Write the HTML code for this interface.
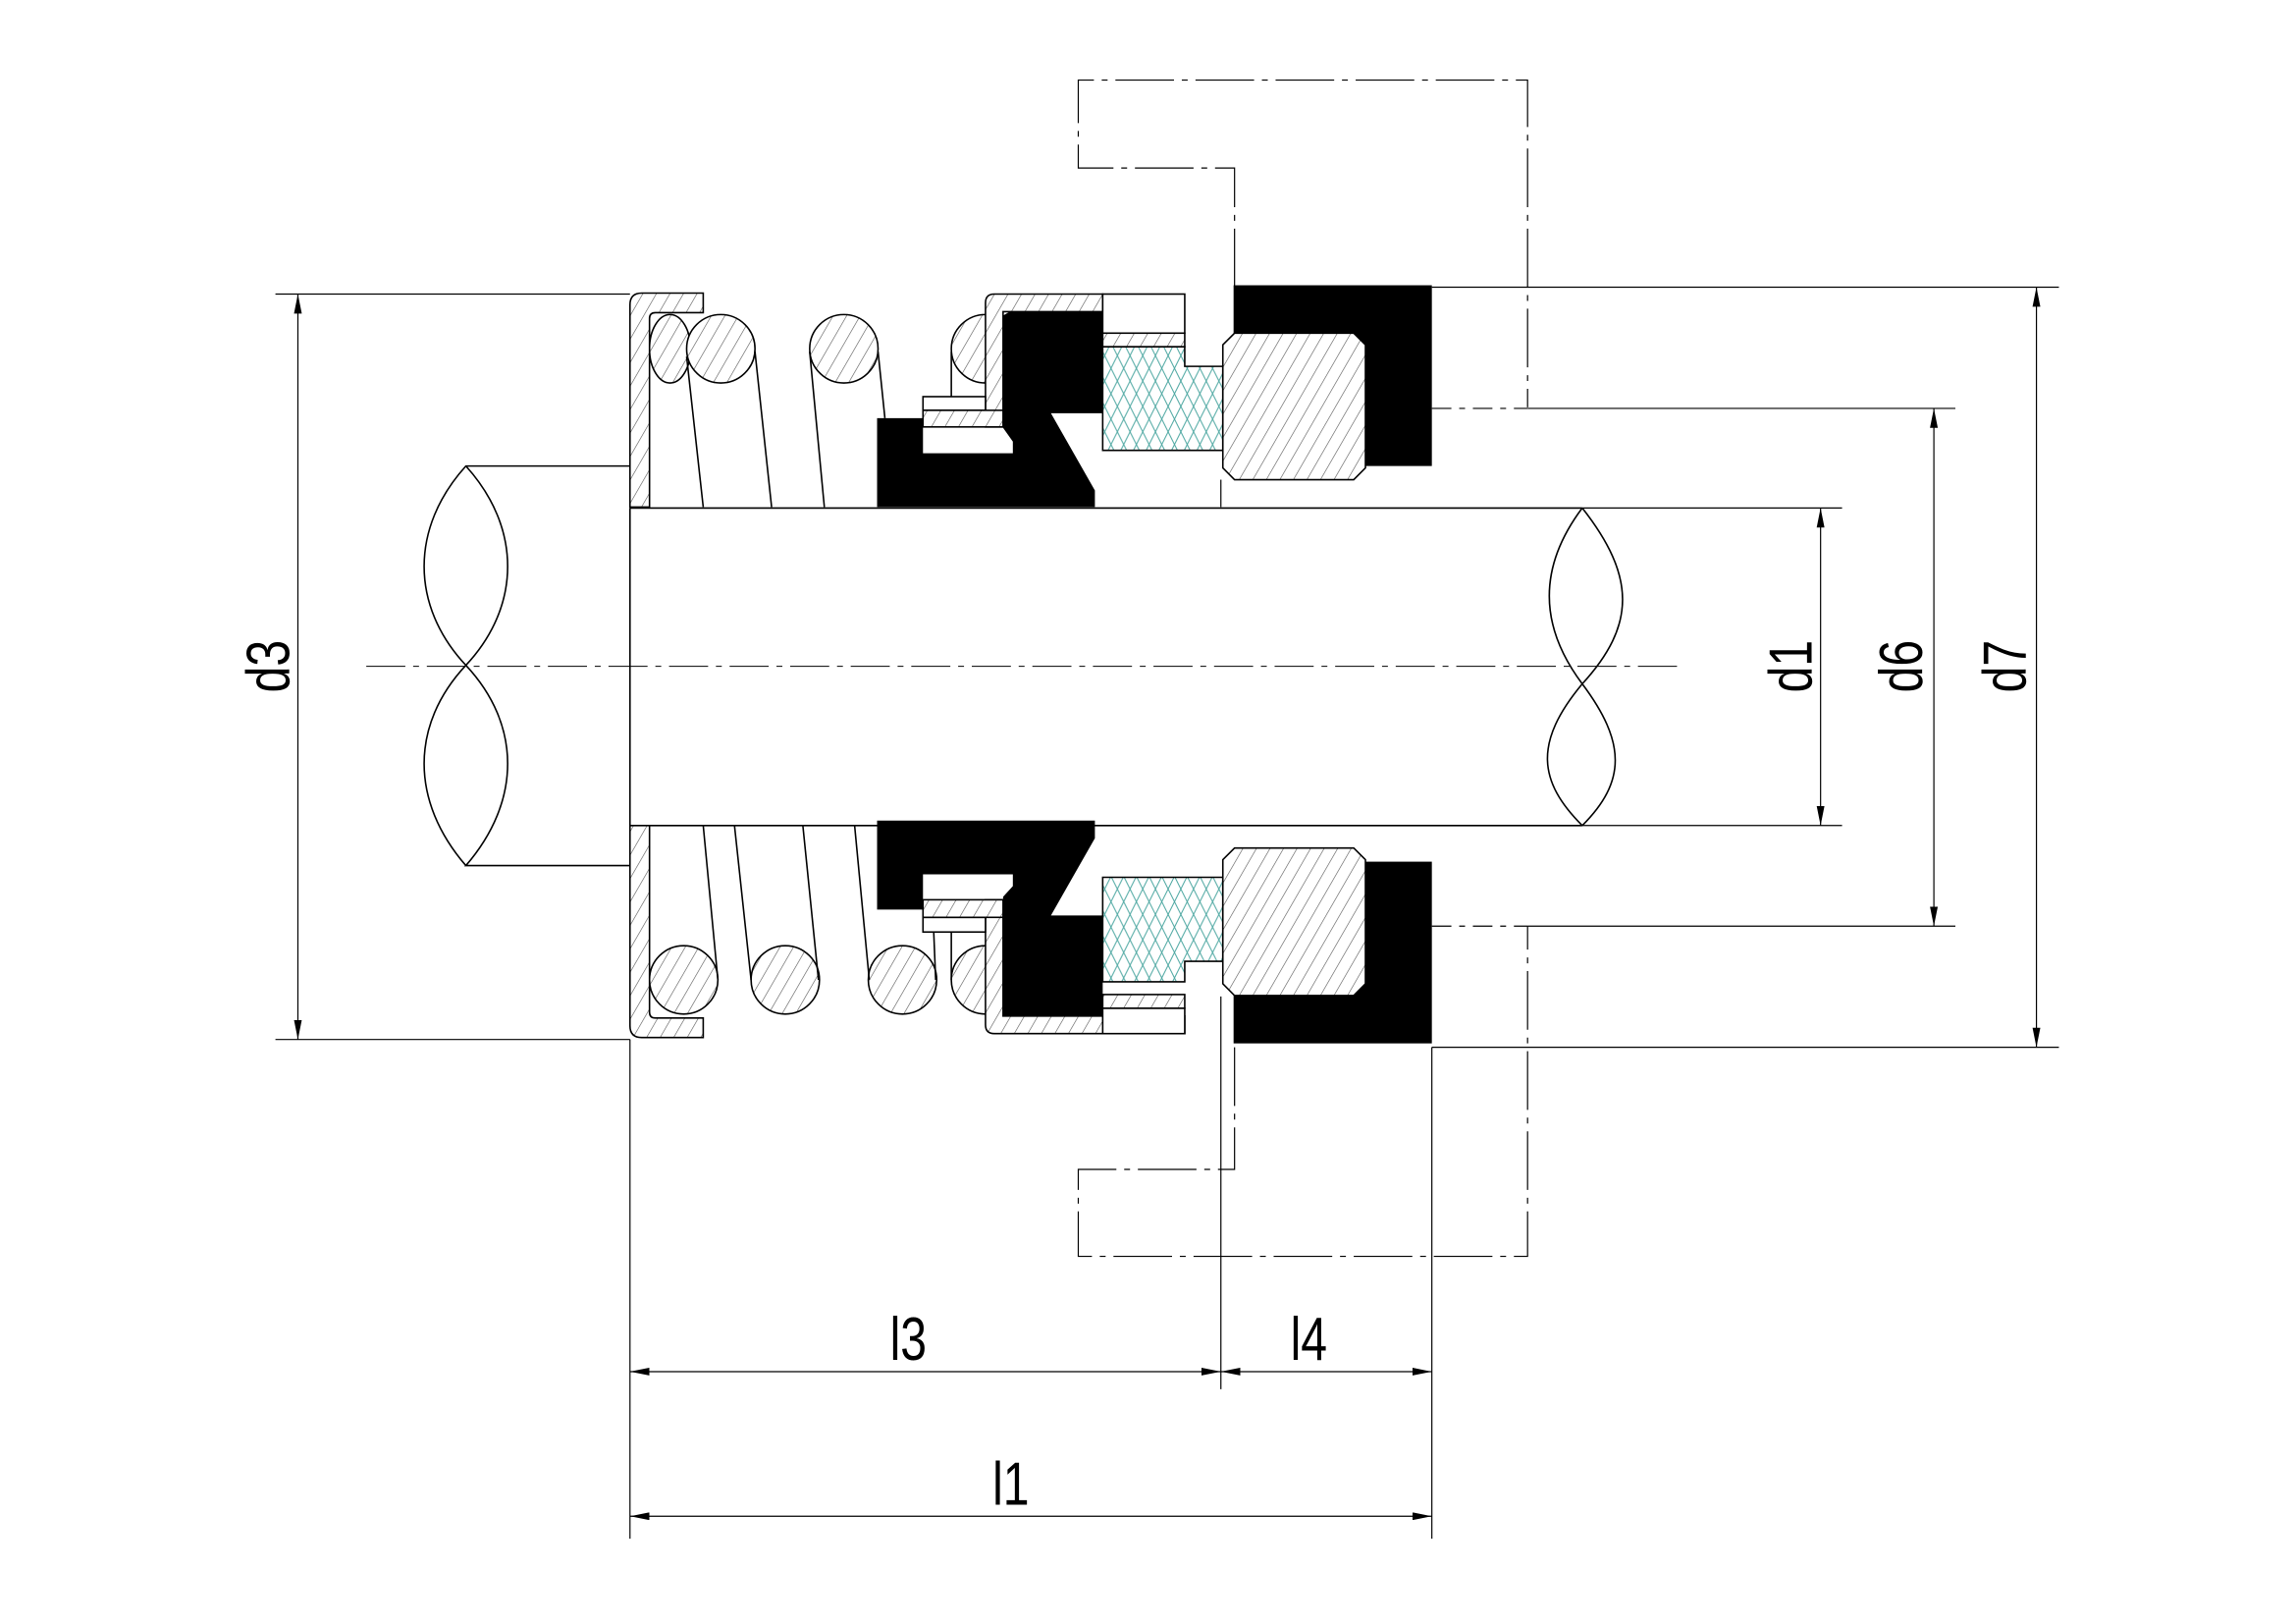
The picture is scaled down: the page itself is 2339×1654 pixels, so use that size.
<!DOCTYPE html>
<html><head><meta charset="utf-8"><style>
html,body{margin:0;padding:0;background:#fff;}
svg{display:block;}
text{font-family:"Liberation Sans",sans-serif;font-size:62px;fill:#000;}
</style></head><body>
<svg width="2339" height="1654" viewBox="0 0 2339 1654" xmlns="http://www.w3.org/2000/svg">
<defs>
<pattern id="h" patternUnits="userSpaceOnUse" width="12" height="12" patternTransform="rotate(30)">
<rect width="12" height="12" fill="#fff"/><line x1="0" y1="0" x2="0" y2="12" stroke="#555" stroke-width="1.2"/></pattern>
<pattern id="t" patternUnits="userSpaceOnUse" width="26" height="26">
<rect width="26" height="26" fill="#fff"/>
<path d="M0,0 L13,26 M13,0 L26,26 M26,0 L13,26 M13,0 L0,26" stroke="#4aa6a0" stroke-width="1"/></pattern>
<marker id="a" viewBox="0 0 20 8" refX="20" refY="4" markerWidth="20" markerHeight="8" orient="auto-start-reverse" markerUnits="userSpaceOnUse"><path d="M0,0 L20,4 L0,8 Z" fill="#000"/></marker>
</defs>
<g transform="scale(0.995)">
<g stroke="#000" stroke-width="1.6" fill="none">
<line x1="375" y1="682" x2="1718" y2="682" stroke-dasharray="40,8,6,8" stroke-width="1"/>
<path d="M645,477 L477,477 C420,540 420,620 477,681 C534,742 534,820 477,886 L645,886"/>
<path d="M477,477 C534,540 534,620 477,681 C420,742 420,820 477,886"/>
<line x1="645" y1="520" x2="1620" y2="520"/>
<line x1="645" y1="845" x2="1620" y2="845"/>
<path d="M1620,520 C1675,590 1675,640 1620,700 C1570,760 1575,800 1620,845"/>
<path d="M1620,520 C1575,580 1575,640 1620,700 C1665,760 1665,800 1620,845"/>
<line x1="645" y1="520" x2="645" y2="845"/>

<g fill="url(#h)">
<ellipse cx="686" cy="357" rx="21" ry="35"/>
<ellipse cx="738" cy="357" rx="35" ry="35"/>
<ellipse cx="864" cy="357" rx="35" ry="35"/>
<ellipse cx="1009" cy="357" rx="35" ry="35"/>
</g>
<line x1="703" y1="365" x2="720" y2="519"/>
<line x1="773" y1="360" x2="790" y2="519"/>
<line x1="829" y1="360" x2="844" y2="519"/>
<line x1="899" y1="360" x2="906" y2="428"/>
<line x1="974" y1="360" x2="974" y2="406"/>
<g fill="url(#h)">
<ellipse cx="700" cy="1003" rx="35" ry="35"/>
<ellipse cx="804" cy="1003" rx="35" ry="35"/>
<ellipse cx="924" cy="1003" rx="35" ry="35"/>
<ellipse cx="1009" cy="1003" rx="35" ry="35"/>
</g>
<line x1="735" y1="1003" x2="720" y2="845"/>
<line x1="769" y1="1003" x2="752" y2="845"/>
<line x1="838" y1="1003" x2="822" y2="845"/>
<line x1="890" y1="1003" x2="875" y2="845"/>
<line x1="958" y1="1003" x2="956" y2="954"/>
<line x1="974" y1="1003" x2="974" y2="954"/>

<path fill="url(#h)" d="M645,519 L645,312 Q645,300 657,300 L720,300 L720,320 L671,320 Q665,320 665,326 L665,519 Z"/>
<path fill="url(#h)" d="M645,845 L645,1050 Q645,1062 657,1062 L720,1062 L720,1042 L671,1042 Q665,1042 665,1036 L665,845 Z"/>

<path fill="url(#h)" d="M1009,437 L1009,310 Q1009,301 1018,301 L1129,301 L1129,319 L1027,319 L1027,437 Z"/>
<rect x="945" y="406" width="64" height="14" fill="#fff"/>
<rect x="945" y="420" width="82" height="17" fill="url(#h)"/>
<path fill="#000" stroke="none" d="M898,428 L945,428 L945,464 L1037,464 L1037,452 L1027,438 L1027,323 L1034,319 L1129,319 L1129,423 L1076,423 L1121,502 L1121,519 L898,519 Z"/>
<rect x="1129" y="301" width="84" height="40" fill="#fff"/>
<rect x="1129" y="341" width="84" height="14" fill="url(#h)"/>
<path fill="url(#t)" d="M1129,355 L1213,355 L1213,375 L1252,375 L1252,461 L1129,461 Z"/>

<path fill="url(#h)" d="M1009,921 L1009,1049 Q1009,1058 1018,1058 L1213,1058 L1213,1040 L1027,1040 L1027,921 Z"/>
<rect x="945" y="939" width="64" height="15" fill="#fff"/>
<rect x="945" y="921" width="82" height="18" fill="url(#h)"/>
<path fill="#000" stroke="none" d="M898,840 L1121,840 L1121,858 L1076,937 L1129,937 L1129,1040 L1027,1040 L1027,918 L1037,907 L1037,895 L945,895 L945,931 L898,931 Z"/>
<rect x="1129" y="1032" width="84" height="26" fill="#fff"/>
<rect x="1129" y="1018" width="84" height="14" fill="url(#h)"/>
<path fill="url(#t)" d="M1129,898 L1252,898 L1252,984 L1213,984 L1213,1005 L1129,1005 Z"/>
</g>

<rect x="1263" y="292" width="203" height="185" fill="#000"/>
<rect x="1263" y="882" width="203" height="186" fill="#000"/>
<g stroke="#000" stroke-width="1.6" fill="url(#h)">
<path d="M1264,341 L1386,341 L1398,353 L1398,479 L1386,491 L1264,491 L1252,479 L1252,353 Z"/>
<path d="M1264,868 L1386,868 L1398,880 L1398,1007 L1386,1019 L1264,1019 L1252,1007 L1252,880 Z"/>
</g>

<g stroke="#000" stroke-width="1.2" fill="none">
<path d="M1264,294 L1264,172 L1104,172 L1104,82 L1564,82 L1564,417" stroke-dasharray="60,8,6,8"/>
<path d="M1264,1072 L1264,1197 L1104,1197 L1104,1286 L1564,1286 L1564,948" stroke-dasharray="60,8,6,8"/>
<line x1="1466" y1="418" x2="1564" y2="418" stroke-dasharray="20,8,6,8"/>
<line x1="1466" y1="948" x2="1564" y2="948" stroke-dasharray="20,8,6,8"/>
<line x1="282" y1="301" x2="645" y2="301"/>
<line x1="282" y1="1064" x2="645" y2="1064"/>
<line x1="1620" y1="520" x2="1886" y2="520"/>
<line x1="1620" y1="845" x2="1886" y2="845"/>
<line x1="1564" y1="418" x2="2002" y2="418"/>
<line x1="1564" y1="948" x2="2002" y2="948"/>
<line x1="1466" y1="294" x2="2108" y2="294"/>
<line x1="1466" y1="1072" x2="2108" y2="1072"/>
<line x1="645" y1="1064" x2="645" y2="1575"/>
<line x1="1250" y1="1020" x2="1250" y2="1422"/>
<line x1="1250" y1="491" x2="1250" y2="519"/>
<line x1="1466" y1="1072" x2="1466" y2="1575"/>
<line x1="305" y1="301" x2="305" y2="1064" marker-start="url(#a)" marker-end="url(#a)"/>
<line x1="1864" y1="520" x2="1864" y2="845" marker-start="url(#a)" marker-end="url(#a)"/>
<line x1="1980" y1="418" x2="1980" y2="948" marker-start="url(#a)" marker-end="url(#a)"/>
<line x1="2085" y1="294" x2="2085" y2="1072" marker-start="url(#a)" marker-end="url(#a)"/>
<line x1="645" y1="1404" x2="1250" y2="1404" marker-start="url(#a)" marker-end="url(#a)"/>
<line x1="1250" y1="1404" x2="1466" y2="1404" marker-start="url(#a)" marker-end="url(#a)"/>
<line x1="645" y1="1552" x2="1466" y2="1552" marker-start="url(#a)" marker-end="url(#a)"/>
</g>

<g>
<text transform="translate(296,682) rotate(-90) scale(0.78,1)" text-anchor="middle">d3</text>
<text transform="translate(1855,682) rotate(-90) scale(0.78,1)" text-anchor="middle">d1</text>
<text transform="translate(1968,682) rotate(-90) scale(0.78,1)" text-anchor="middle">d6</text>
<text transform="translate(2074,682) rotate(-90) scale(0.78,1)" text-anchor="middle">d7</text>
<text transform="translate(930,1392) scale(0.78,1)" text-anchor="middle">l3</text>
<text transform="translate(1340,1392) scale(0.78,1)" text-anchor="middle">l4</text>
<text transform="translate(1035,1540) scale(0.78,1)" text-anchor="middle">l1</text>
</g>
</g>
</svg>
</body></html>
